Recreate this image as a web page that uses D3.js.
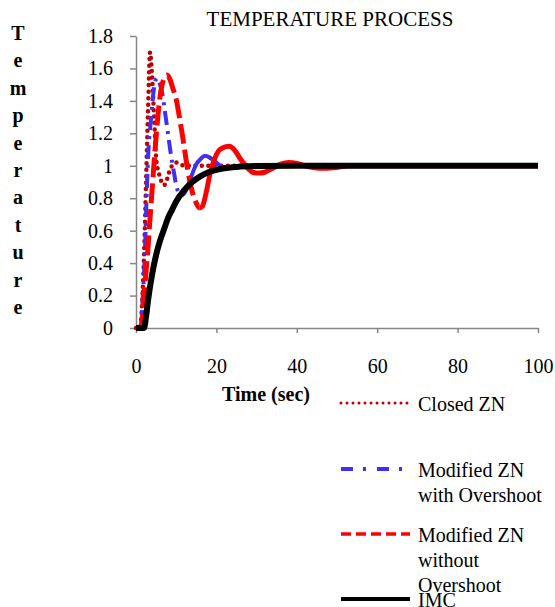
<!DOCTYPE html>
<html>
<head>
<meta charset="utf-8">
<script src="https://cdn.jsdelivr.net/npm/d3@7"></script>
<style>
  body { margin: 0; background: #fff; }
  text { font-family: "Liberation Serif", "Times New Roman", serif; fill: #000; }
</style>
</head>
<body>
<div id="chart"></div>
<script>
// time (sec) and temperature values
var closedT = [0, 1, 1.5, 2, 2.5, 3, 3.5, 4, 4.5, 5, 5.5, 6, 6.5, 7, 7.5, 8, 8.5, 9, 10, 11, 12, 14, 100];
var closedY = [0, 0, 0.15, 0.45, 0.9, 1.35, 1.7, 1.55, 1.3, 1.05, 0.97, 0.93, 0.89, 0.88, 0.9, 0.94, 0.98, 1.0, 1.02, 1.01, 1.0, 1.0, 1.0];

var overT = [0, 1.2, 1.7, 2.2, 2.5, 3, 3.7, 4.5, 5.2, 6, 6.5, 7, 7.5, 8, 8.5, 9, 9.5, 10, 10.5, 11, 11.5, 12, 13, 14, 15, 16, 17, 17.5, 18, 19, 20, 21, 22, 23, 25, 28, 100];
var overY = [0, 0, 0.2, 0.45, 0.7, 1.05, 1.28, 1.48, 1.54, 1.5, 1.45, 1.37, 1.28, 1.19, 1.1, 1.02, 0.95, 0.88, 0.84, 0.82, 0.82, 0.83, 0.88, 0.95, 1.01, 1.04, 1.06, 1.06, 1.055, 1.04, 1.02, 1.0, 0.99, 0.985, 0.99, 1.0, 1.0];

var noOverT = [0, 1.2, 2, 2.5, 3, 3.5, 4, 4.5, 5, 5.5, 6, 6.5, 7, 7.7, 8.5, 9, 10, 11, 11.6, 12.9, 14, 15, 15.8, 16.5, 17.5, 18.5, 19.5, 20.5, 21.5, 23.2, 24, 25, 26, 27, 28, 29, 30.6, 32, 34, 36, 38, 40, 42, 44, 47, 50, 53, 100];
var noOverY = [0, 0, 0.2, 0.35, 0.5, 0.68, 0.85, 1.02, 1.18, 1.32, 1.43, 1.5, 1.54, 1.56, 1.53, 1.49, 1.41, 1.27, 1.18, 0.97, 0.84, 0.77, 0.74, 0.75, 0.84, 0.96, 1.04, 1.09, 1.11, 1.12, 1.11, 1.08, 1.04, 1.01, 0.98, 0.96, 0.955, 0.96, 0.985, 1.01, 1.02, 1.015, 1.0, 0.99, 0.985, 0.99, 1.0, 1.0];

var imcT = [0, 2, 2.5, 3, 4, 5, 6, 7, 8, 9, 10, 12, 14, 16, 18, 20, 22, 25, 30, 40, 100];
var imcY = [0, 0, 0.07, 0.17, 0.33, 0.45, 0.54, 0.61, 0.68, 0.73, 0.78, 0.85, 0.9, 0.935, 0.96, 0.975, 0.985, 0.993, 0.998, 1.0, 1.0];

var xTicks = [0, 20, 40, 60, 80, 100];
var yTicks = [0, 0.2, 0.4, 0.6, 0.8, 1, 1.2, 1.4, 1.6, 1.8];

var seriesNames = [["Closed ZN"], ["Modified ZN", "with Overshoot"], ["Modified ZN", "without", "Overshoot"], ["IMC"]];

var width = 555, height = 607;

var x = d3.scaleLinear().domain([0, 100]).range([136, 538]);
var y = d3.scaleLinear().domain([0, 1.8]).range([328, 36]);

var svg = d3.select('#chart').append('svg')
  .attr('width', width)
  .attr('height', height);

// axes
var xAxis = svg.append('g')
  .attr('transform', 'translate(0,' + y(0) + ')')
  .call(d3.axisBottom(x).tickValues(xTicks).tickSize(5).tickSizeOuter(0).tickPadding(26));
var yAxis = svg.append('g')
  .attr('transform', 'translate(' + x(0) + ',0)')
  .call(d3.axisLeft(y).tickValues(yTicks).tickSize(6).tickSizeOuter(0).tickPadding(17)
    .tickFormat(function(d) { return String(+d.toFixed(1)); }));

[xAxis, yAxis].forEach(function(a) {
  a.attr('font-family', null);
  a.select('.domain').attr('stroke', '#868686').attr('stroke-width', 1.5);
  a.selectAll('.tick line').attr('stroke', '#868686').attr('stroke-width', 1.5);
  a.selectAll('.tick text')
    .style('font-family', '"Liberation Serif", serif')
    .style('font-size', '20px')
    .attr('fill', '#000');
});

// title and axis labels
svg.append('text')
  .attr('x', 330).attr('y', 26)
  .attr('text-anchor', 'middle')
  .style('font-size', '21px')
  .text('TEMPERATURE PROCESS');

svg.append('text')
  .attr('x', 266).attr('y', 401)
  .attr('text-anchor', 'middle')
  .style('font-size', '20px')
  .style('font-weight', 'bold')
  .text('Time (sec)');

svg.append('g').selectAll('text')
  .data('Temperature'.split(''))
  .enter().append('text')
  .attr('x', 18)
  .attr('y', function(d, i) { return 40 + i * 27.4; })
  .attr('text-anchor', 'middle')
  .style('font-size', '20px')
  .style('font-weight', 'bold')
  .text(function(d, i) { return i === 0 ? d.toUpperCase() : d; });

// line styles; the old Excel look: dashes show on the steep part,
// the slow wiggles after "solidFrom" come out as a solid stroke
var styles = [
  {color: '#C00000', width: 4.5, dash: '0,6.5', cap: 'round', lw: 3, ldash: '0,6', solidFrom: null},
  {color: '#4030F0', width: 4, dash: '14,6,3,6', cap: 'butt', lw: 4, ldash: '12,10,3,11', solidFrom: 11},
  {color: '#FF0000', width: 5, dash: '20,6', cap: 'butt', lw: 3.5, ldash: '10,5', solidFrom: 15.8},
  {color: '#000000', width: 6, dash: null, cap: 'butt', lw: 4, ldash: null, solidFrom: null}
];

var series = [
  d3.zip(closedT, closedY),
  d3.zip(overT, overY),
  d3.zip(noOverT, noOverY),
  d3.zip(imcT, imcY)
];

var line = d3.line()
  .x(function(d) { return x(d[0]); })
  .y(function(d) { return y(d[1]); })
  .curve(d3.curveMonotoneX);

var defs = svg.append('defs');
styles.forEach(function(s, i) {
  if (s.solidFrom == null) return;
  defs.append('clipPath').attr('id', 'dash' + i).append('rect')
    .attr('x', 0).attr('y', 0).attr('width', x(s.solidFrom)).attr('height', height);
  defs.append('clipPath').attr('id', 'solid' + i).append('rect')
    .attr('x', x(s.solidFrom)).attr('y', 0).attr('width', width).attr('height', height);
});

var plot = svg.append('g');
series.forEach(function(d, i) {
  var s = styles[i];
  var p = plot.append('path')
    .attr('d', line(d))
    .attr('fill', 'none')
    .attr('stroke', s.color)
    .attr('stroke-width', s.width)
    .attr('stroke-dasharray', s.dash)
    .attr('stroke-linecap', s.cap)
    .attr('stroke-linejoin', 'round');
  if (s.solidFrom != null) {
    p.attr('clip-path', 'url(#dash' + i + ')');
    plot.append('path')
      .attr('d', line(d))
      .attr('fill', 'none')
      .attr('stroke', s.color)
      .attr('stroke-width', s.width)
      .attr('stroke-linejoin', 'round')
      .attr('clip-path', 'url(#solid' + i + ')');
  }
});

// legend
var legendY = [403, 469, 534, 599];
var legend = svg.append('g').selectAll('g')
  .data(seriesNames)
  .enter().append('g')
  .attr('transform', function(d, i) { return 'translate(0,' + legendY[i] + ')'; });

legend.append('line')
  .attr('x1', 341).attr('x2', 410)
  .attr('stroke', function(d, i) { return styles[i].color; })
  .attr('stroke-width', function(d, i) { return styles[i].lw; })
  .attr('stroke-dasharray', function(d, i) { return styles[i].ldash; })
  .attr('stroke-linecap', function(d, i) { return styles[i].cap; });

legend.selectAll('text')
  .data(function(d) { return d; })
  .enter().append('text')
  .attr('x', 418)
  .attr('y', function(d, j) { return 8 + j * 25; })
  .style('font-size', '20px')
  .text(function(d) { return d; });
</script>
</body>
</html>
